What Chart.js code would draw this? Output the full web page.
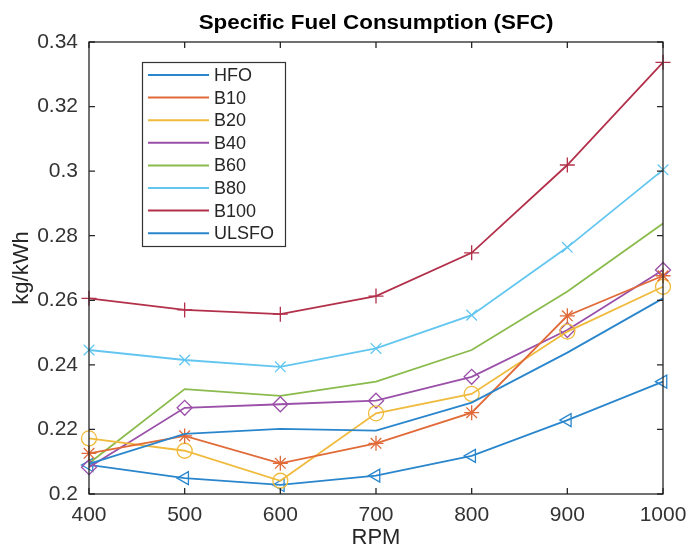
<!DOCTYPE html>
<html><head><meta charset="utf-8">
<script src="https://cdn.jsdelivr.net/npm/chart.js@4"></script>
<style>html,body{margin:0;padding:0;background:#fff}#wrap{width:687px;height:549px}</style>
</head><body><div id="wrap"><canvas id="c" width="687" height="549"></canvas></div>
<script>
const rpm = [400, 500, 600, 700, 800, 900, 1000];
const seriesNames = ['HFO', 'B10', 'B20', 'B40', 'B60', 'B80', 'B100', 'ULSFO'];
const hfo   = [0.2093, 0.2186, 0.2202, 0.2196, 0.2283, 0.2438, 0.2606];
const b10   = [0.2126, 0.2180, 0.2095, 0.2157, 0.2252, 0.2552, 0.2676];
const b20   = [0.2172, 0.2134, 0.2041, 0.2250, 0.2310, 0.2503, 0.2642];
const b40   = [0.2083, 0.2267, 0.2278, 0.2289, 0.2363, 0.2508, 0.2694];
const b60   = [0.2095, 0.2325, 0.2304, 0.2348, 0.2446, 0.2627, 0.2838];
const b80   = [0.2446, 0.2415, 0.2394, 0.2451, 0.2554, 0.2764, 0.3004];
const b100  = [0.2606, 0.2570, 0.2557, 0.2613, 0.2747, 0.3019, 0.3337];
const ulsfo = [0.2090, 0.2049, 0.2028, 0.2057, 0.2118, 0.2229, 0.2348];
const yTicks = [0.2, 0.22, 0.24, 0.26, 0.28, 0.3, 0.32, 0.34];
const xTicks = [400, 500, 600, 700, 800, 900, 1000];
const titleText = 'Specific Fuel Consumption (SFC)';
const xTitle = 'RPM';
const yTitle = 'kg/kWh';

const values = [hfo, b10, b20, b40, b60, b80, b100, ulsfo];
const colors = ['#2a86cc', '#e06a38', '#f0bb3c', '#9a4fa8', '#8abb4c', '#62c6f0', '#b3304b', '#2a86cc'];
const markers = [false, 'star', 'circle', 'rectRot', false, 'crossRot', 'cross', 'triangle'];
const rotations = [0, 0, 0, 0, 0, 0, 0, -90];
const FONT = '"Liberation Sans", Arial, sans-serif';

const datasets = seriesNames.map((n, i) => ({
  label: n,
  data: rpm.map((x, j) => ({x: x, y: values[i][j]})),
  borderColor: colors[i],
  backgroundColor: 'rgba(0,0,0,0)',
  borderWidth: 1.8,
  pointStyle: markers[i] || 'circle',
  pointRadius: markers[i] ? 7.5 : 0,
  pointRotation: rotations[i],
  pointBorderWidth: 1.3,
  pointBorderColor: colors[i],
  pointBackgroundColor: 'rgba(0,0,0,0)',
  clip: false,
  tension: 0
}));

function stretchText(ctx, txt, x, y, sx) {
  ctx.save();
  ctx.translate(x, y);
  ctx.scale(sx, 1);
  ctx.fillText(txt, 0, 0);
  ctx.restore();
}

const framePlugin = {
  id: 'frame',
  afterDraw(chart) {
    const ctx = chart.ctx, a = chart.chartArea;
    const xs = chart.scales.x, ys = chart.scales.y;
    ctx.save();
    ctx.strokeStyle = '#262626';
    ctx.lineWidth = 1.3;
    ctx.strokeRect(a.left, a.top, a.right - a.left, a.bottom - a.top);
    ctx.beginPath();
    xTicks.forEach(t => {
      const px = xs.getPixelForValue(t);
      ctx.moveTo(px, a.bottom); ctx.lineTo(px, a.bottom - 6);
      ctx.moveTo(px, a.top); ctx.lineTo(px, a.top + 6);
    });
    yTicks.forEach(t => {
      const py = ys.getPixelForValue(t);
      ctx.moveTo(a.left, py); ctx.lineTo(a.left + 6, py);
      ctx.moveTo(a.right, py); ctx.lineTo(a.right - 6, py);
    });
    ctx.stroke();
    // titles
    ctx.fillStyle = '#000';
    ctx.font = 'bold 20px ' + FONT;
    ctx.textAlign = 'center'; ctx.textBaseline = 'middle';
    stretchText(ctx, titleText, (a.left + a.right) / 2, 23, 1.12);
    ctx.fillStyle = '#262626';
    ctx.font = '22px ' + FONT;
    ctx.fillText(xTitle, (a.left + a.right) / 2, 538);
    ctx.save();
    ctx.translate(22, (a.top + a.bottom) / 2);
    ctx.rotate(-Math.PI / 2);
    ctx.fillText(yTitle, 0, 0);
    ctx.restore();
    // legend
    const lx = 142, ly = 62, lw = 143, lh = 184;
    ctx.fillStyle = '#fff';
    ctx.fillRect(lx, ly, lw, lh);
    ctx.strokeStyle = '#333';
    ctx.lineWidth = 1.2;
    ctx.strokeRect(lx + 0.5, ly + 0.5, lw, lh);
    ctx.font = '18px ' + FONT;
    ctx.textAlign = 'left';
    seriesNames.forEach((n, i) => {
      const y = 75 + i * 22.6;
      ctx.strokeStyle = colors[i];
      ctx.lineWidth = 2;
      ctx.beginPath(); ctx.moveTo(148, y); ctx.lineTo(209, y); ctx.stroke();
      ctx.fillStyle = '#262626';
      ctx.fillText(n, 214, y + 1);
    });
    ctx.restore();
  }
};

new Chart(document.getElementById('c'), {
  type: 'line',
  data: {datasets},
  options: {
    responsive: false,
    animation: false,
    layout: {padding: {top: 42, right: 24, left: 0, bottom: 0}},
    plugins: {legend: {display: false}, title: {display: false}, tooltip: {enabled: false}},
    scales: {
      x: {
        type: 'linear', min: 400, max: 1000,
        afterBuildTicks: s => { s.ticks = xTicks.map(v => ({value: v})); },
        afterFit: s => { s.height = 55; s.paddingLeft = 0; s.paddingRight = 0; },
        grid: {display: false},
        border: {display: false},
        ticks: {color: '#333', padding: 1, maxRotation: 0, autoSkip: false, callback: v => String(v), font: {size: 21, family: FONT}}
      },
      y: {
        type: 'linear', min: 0.2, max: 0.34,
        afterBuildTicks: s => { s.ticks = yTicks.map(v => ({value: v})); },
        afterFit: s => { s.width = 89; s.paddingTop = 0; s.paddingBottom = 0; },
        grid: {display: false},
        border: {display: false},
        ticks: {color: '#333', padding: 3, autoSkip: false, callback: v => String(+v.toFixed(2)), font: {size: 21, family: FONT}}
      }
    }
  },
  plugins: [framePlugin]
});
</script></body></html>
